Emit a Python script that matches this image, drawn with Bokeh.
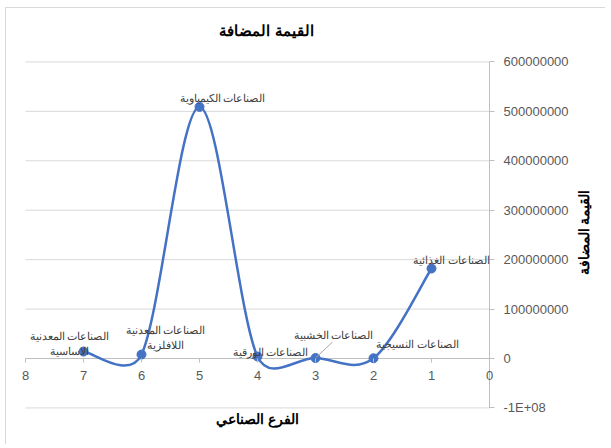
import numpy as np
from bokeh.plotting import figure
from bokeh.models import (Range1d, FixedTicker, CustomJSTickFormatter,
                          ColumnDataSource, LabelSet, Label)
from bokeh.core.properties import value
from bokeh.embed import file_html
from bokeh.resources import INLINE

# ---- data ----
branch = [1, 2, 3, 4, 5, 6, 7]
added_value = [182e6, 0.5e6, 1e6, 4e6, 509e6, 8e6, 14e6]
branch_names = [
    "الصناعات الغذائية",
    "الصناعات النسيجية",
    "الصناعات الخشبية",
    "الصناعات الورقية",
    "الصناعات الكيمياوية",
    "الصناعات المعدنية\nاللافلزية",
    "الصناعات المعدنية\nالاساسية",
]
x_ticks = [0, 1, 2, 3, 4, 5, 6, 7, 8]
y_ticks = [-1e8, 0, 1e8, 2e8, 3e8, 4e8, 5e8, 6e8]
chart_title = "القيمة المضافة"
x_title = "الفرع الصناعي"
y_title = "القيمة المضافة"

# label placement (screen px offsets of the first text line from each point)
label_dx = [20, 44, 18, 13, 23, 24, -14]
label_dy = [9, 14, 23, 5, 9, 25, 16]
LINE_STEP = 15.5

FONT = "Liberation Sans"
BLUE = "#4472C4"
AXIS_GREY = "#bfbfbf"
GRID_GREY = "#d9d9d9"

# page geometry (image px): plot area spans x 25..489, y 61..407
X0_PX, XPX = 489.0, 58.0                 # x = 0 at 489 px, 58 px per unit
Y0_PX = 358.0                            # y = 0 at 358 px
YPX = 346.0 / (y_ticks[-1] - y_ticks[0])
CANVAS_L, CANVAS_T = 6, 8
CANVAS_R, CANVAS_B = 605, 444


def px_x(ix):
    return (X0_PX - ix) / XPX


def px_y(iy):
    return (Y0_PX - iy) / YPX


p = figure(frame_width=CANVAS_R - CANVAS_L, frame_height=CANVAS_B - CANVAS_T,
           x_range=Range1d(px_x(CANVAS_L), px_x(CANVAS_R)),
           y_range=Range1d(px_y(CANVAS_B), px_y(CANVAS_T)),
           y_axis_location="right", output_backend="svg", toolbar_location=None,
           min_border=0)
p.styles = {"border-left": "1px solid #d9d9d9", "border-top": "1px solid #d9d9d9",
            "margin-left": "5px", "margin-top": "7px"}
p.outline_line_color = None
p.background_fill_color = "white"
p.border_fill_color = "white"
p.xgrid.visible = False
p.ygrid.visible = False

# grid lines and axis lines spanning the plot area
n_y = len(y_ticks)
p.segment(x0=[x_ticks[-1]] * n_y, y0=y_ticks, x1=[x_ticks[0]] * n_y, y1=y_ticks,
          line_color=GRID_GREY, line_width=1)
p.segment(x0=[x_ticks[0]], y0=[y_ticks[0]], x1=[x_ticks[0]], y1=[y_ticks[-1]],
          line_color=AXIS_GREY, line_width=1)
p.segment(x0=[x_ticks[-1]], y0=[0], x1=[x_ticks[0]], y1=[0],
          line_color=AXIS_GREY, line_width=1)

# x axis placed at y = 0
xa = p.xaxis[0]
xa.fixed_location = 0
xa.ticker = FixedTicker(ticks=x_ticks)
xa.axis_line_color = None
xa.major_tick_line_color = AXIS_GREY
xa.major_tick_out = 4
xa.major_tick_in = 0
xa.minor_tick_line_color = None
xa.major_label_text_font = FONT
xa.major_label_text_font_size = "13px"
xa.major_label_text_color = "#595959"
xa.major_label_standoff = 8

# y axis placed at x = 0
ya = p.yaxis[0]
ya.fixed_location = 0
ya.ticker = FixedTicker(ticks=y_ticks)
ya.formatter = CustomJSTickFormatter(code="""
    if (tick <= -1e8) { return "-1E+08"; }
    return tick.toFixed(0);
""")
ya.axis_line_color = None
ya.major_tick_line_color = AXIS_GREY
ya.major_tick_out = 5
ya.major_tick_in = 0
ya.minor_tick_line_color = None
ya.major_label_text_font = FONT
ya.major_label_text_font_size = "13px"
ya.major_label_text_color = "#595959"
ya.major_label_standoff = 9

# titles
p.add_layout(Label(x=px_x(266), y=px_y(30), text=chart_title,
                   text_align="center", text_baseline="middle",
                   text_font=FONT, text_font_size="14.5px", text_font_style="bold",
                   text_color="black"))
p.add_layout(Label(x=px_x(257), y=px_y(418), text=x_title,
                   text_align="center", text_baseline="middle",
                   text_font=FONT, text_font_size="14px", text_font_style="bold",
                   text_color="black"))
p.add_layout(Label(x=px_x(583), y=px_y(232), text=y_title, angle=np.pi / 2,
                   text_align="center", text_baseline="middle",
                   text_font=FONT, text_font_size="14px", text_font_style="bold",
                   text_color="black"))


# smoothed line (Excel-like Bezier through the points)
def smooth_segments(xs, ys):
    P = [np.array([x * XPX, y * YPX]) for x, y in zip(xs, ys)]
    n = len(P)
    out = {k: [] for k in ("x0", "y0", "x1", "y1", "cx0", "cy0", "cx1", "cy1")}
    for i in range(n - 1):
        p0 = P[i - 1] if i > 0 else P[i]
        p1, p2 = P[i], P[i + 1]
        p3 = P[i + 2] if i + 2 < n else P[i + 1]
        d12 = np.linalg.norm(p2 - p1)
        t1 = (p2 - p0) / 6.0
        t2 = (p3 - p1) / 6.0
        for t in (t1, t2):
            L = np.linalg.norm(t)
            if L > d12 / 2:
                t *= (d12 / 2) / L
        c1 = p1 + t1
        c2 = p2 - t2
        out["x0"].append(xs[i]); out["y0"].append(ys[i])
        out["x1"].append(xs[i + 1]); out["y1"].append(ys[i + 1])
        out["cx0"].append(c1[0] / XPX); out["cy0"].append(c1[1] / YPX)
        out["cx1"].append(c2[0] / XPX); out["cy1"].append(c2[1] / YPX)
    return out


seg = smooth_segments(branch, added_value)
p.bezier(x0="x0", y0="y0", x1="x1", y1="y1", cx0="cx0", cy0="cy0", cx1="cx1", cy1="cy1",
         source=ColumnDataSource(seg), line_color=BLUE, line_width=2.5)

p.scatter(branch, added_value, size=9, fill_color=BLUE, line_color=BLUE)

# leader line for the wood-industry label
i3 = 2
p.segment(x0=[branch[i3]], y0=[added_value[i3]],
          x1=[branch[i3] - 17 / XPX], y1=[added_value[i3] + 16 / YPX],
          line_color="#a6a6a6", line_width=1)

# data labels, one row per text line
rows = dict(x=[], y=[], name=[], dx=[], dy=[])
for xv, yv, nm, dx, dy in zip(branch, added_value, branch_names, label_dx, label_dy):
    for j, line in enumerate(nm.split("\n")):
        rows["x"].append(xv); rows["y"].append(yv); rows["name"].append(line)
        rows["dx"].append(dx); rows["dy"].append(dy - j * LINE_STEP)
labels = LabelSet(x="x", y="y", text="name", x_offset="dx", y_offset="dy",
                  source=ColumnDataSource(rows),
                  text_align="center", text_baseline="middle",
                  text_font=value(FONT), text_font_size="10.8px", text_color="#404040")
p.add_layout(labels)

open("out.html", "w").write(file_html(p, INLINE))
